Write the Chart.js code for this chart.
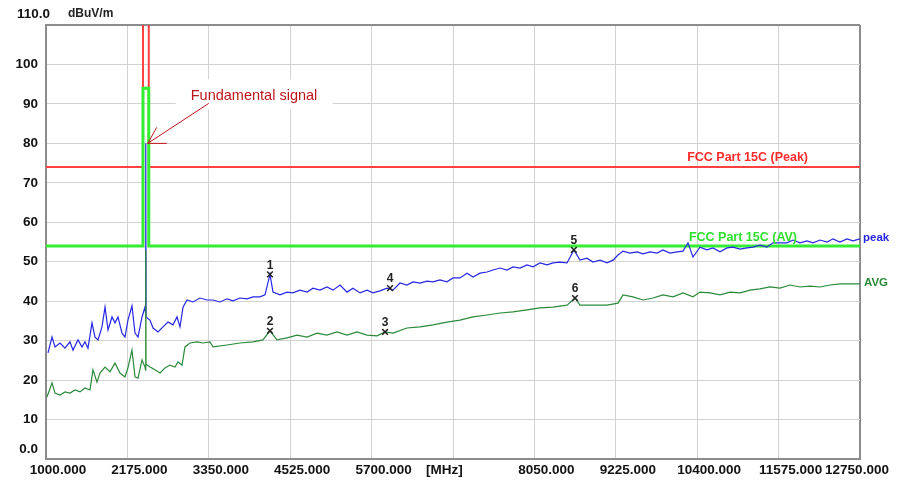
<!DOCTYPE html>
<html>
<head>
<meta charset="utf-8">
<script src="https://cdn.jsdelivr.net/npm/chart.js@4.4.1/dist/chart.umd.min.js"></script>
<style>
html,body{margin:0;padding:0;background:#fff;}
#wrap{width:897px;height:482px;position:relative;}
</style>
</head>
<body>
<div id="wrap"><canvas id="emiChart" width="897" height="482"></canvas></div>
<script>
// frequency axis (MHz) and level axis (dBuV/m)
const xTicks = [1000,2175,3350,4525,5700,6875,8050,9225,10400,11575,12750];
const xTickLabels = ["1000.000","2175.000","3350.000","4525.000","5700.000","[MHz]           ","8050.000","9225.000","10400.000","11575.000","12750.000        "];
const yTicks = [0,10,20,30,40,50,60,70,80,90,100,110];
const yTickLabels = ["0.0","10","20","30","40","50","60","70","80","90","100","110.0"];

// limit lines, restricted band notch around the fundamental
const limitFreq = [1000,2400,2400,2483.5,2483.5,12750];
const peakLimit = [74,74,114,114,74,74];
const avLimit = [54,54,94,94,54,54];

// peak detector trace
const peakFreq = [1029,1087,1130,1202,1274,1346,1390,1462,1520,1563,1606,1664,1707,1751,1808,1852,1895,1953,1996,2039,2097,2140,2183,2241,2285,2328,2386,2429,2438,2440,2444,2501,2545,2617,2689,2761,2833,2891,2934,2978,3035,3122,3223,3324,3411,3512,3613,3699,3800,3901,3988,4089,4161,4233,4277,4378,4479,4565,4666,4768,4854,4955,5056,5143,5244,5345,5431,5533,5634,5720,5821,5922,6009,6110,6211,6298,6399,6500,6586,6687,6788,6875,6976,7077,7164,7265,7366,7452,7553,7654,7741,7842,7943,8030,8131,8232,8318,8420,8521,8620,8708,8809,8896,8997,9098,9185,9257,9329,9430,9531,9618,9719,9820,9906,10007,10108,10195,10267,10339,10440,10541,10628,10729,10830,10917,11018,11119,11205,11306,11407,11494,11595,11696,11783,11884,11985,12072,12173,12274,12360,12461,12562,12649,12750];
const peakLevel = [26.9,30.9,28.4,29.4,28.1,29.7,27.6,30.2,28.4,29.7,28.1,34.5,30.9,30.2,33.5,38.5,32.7,36.0,34.5,36.0,31.9,30.9,35.2,38.8,31.9,30.9,36.0,38.5,37.0,80.0,36.0,35.2,33.2,32.2,33.5,34.7,34.0,36.0,33.5,38.5,40.3,39.8,40.8,40.3,40.3,39.8,40.6,40.1,40.8,40.6,41.1,41.1,41.6,46.8,42.3,41.6,42.3,42.1,42.8,42.3,43.3,42.8,43.6,42.8,44.1,42.3,43.3,42.1,42.8,42.1,42.6,43.3,42.8,44.6,44.1,44.9,44.6,45.1,44.9,45.4,44.9,45.9,45.9,47.1,46.1,47.1,47.4,47.9,48.4,47.9,48.7,48.4,49.2,48.7,49.7,49.2,49.7,49.9,49.7,53.0,50.4,50.9,49.9,50.4,49.7,50.4,51.7,52.7,52.2,52.5,52.0,52.5,52.2,53.0,52.2,52.5,52.7,54.8,51.2,53.7,53.0,53.5,52.5,53.5,53.7,53.2,53.5,53.7,54.2,53.7,54.8,54.8,54.8,55.5,54.8,55.3,54.8,55.5,55.0,55.8,55.0,55.8,55.3,55.8];

// average detector trace
const avgFreq = [1014,1087,1130,1202,1274,1346,1419,1491,1563,1635,1678,1736,1779,1852,1924,1996,2068,2140,2183,2241,2285,2328,2386,2429,2438,2440,2444,2501,2573,2646,2718,2790,2862,2905,2963,3006,3079,3180,3266,3367,3411,3613,3800,3988,4132,4233,4334,4479,4623,4768,4912,5056,5200,5345,5489,5634,5778,5894,6009,6211,6399,6586,6788,6976,7164,7366,7553,7741,7943,8131,8318,8521,8636,8708,8896,9098,9257,9329,9473,9618,9762,9906,10051,10195,10339,10440,10585,10729,10873,11018,11162,11306,11451,11595,11739,11884,12028,12173,12317,12461,12606,12750];
const avgLevel = [15.7,19.3,16.7,16.2,17.0,16.7,17.5,17.0,18.0,17.5,22.6,19.5,21.8,23.3,22.1,24.3,21.8,20.8,23.1,27.6,20.8,20.5,25.1,23.3,22.5,53.0,24.0,23.3,22.6,21.8,23.1,23.8,23.3,24.6,23.8,28.4,29.4,29.7,29.4,29.7,28.4,28.9,29.4,29.7,30.2,32.5,30.2,30.7,31.4,30.9,31.9,31.4,32.2,31.4,32.2,31.4,31.2,32.2,31.9,33.2,33.5,34.0,34.7,35.2,36.0,36.5,37.0,37.3,37.8,38.3,38.5,39.0,40.8,39.0,39.0,39.0,39.5,41.6,41.1,40.3,40.8,41.6,41.1,42.1,41.1,42.3,42.1,41.6,42.3,42.1,42.8,43.1,43.6,43.3,44.1,43.6,43.8,43.6,44.1,44.4,44.4,44.4];

// marked points
const markerFreq = [4233,4233,5894,5966,8620,8636];
const markerLevel = [46.8,32.5,32.2,43.3,53.0,40.8];
const markerNames = ["1","2","3","4","5","6"];

function pairs(xs, ys){ return xs.map((x,i)=>({x:x, y:ys[i]})); }

const FONT = "'Liberation Sans', Arial, sans-serif";

const textPlugin = {
  id:"textPlugin",
  afterDatasetsDraw(chart){
    const ctx = chart.ctx, a = chart.chartArea;
    const xs = chart.scales.x, ys = chart.scales.y;
    ctx.save();

    // end labels of the level axis sit a little off their ticks
    ctx.fillStyle = "#111";
    ctx.font = "bold 13.5px " + FONT;
    ctx.textAlign = "right"; ctx.textBaseline = "middle";
    ctx.fillText(yTickLabels[yTickLabels.length-1], a.left + 4, 14);
    ctx.fillText(yTickLabels[0], a.left - 8, ys.getPixelForValue(0) - 10);

    // unit label
    ctx.fillStyle = "#222";
    ctx.font = "bold 12px " + FONT;
    ctx.textAlign = "left";
    ctx.fillText("dBuV/m", a.left + 22, 14);

    // limit labels
    ctx.font = "bold 12.5px " + FONT;
    ctx.textAlign = "right"; ctx.textBaseline = "bottom";
    ctx.fillStyle = "#ff2a2a";
    ctx.fillText("FCC Part 15C (Peak)", a.right - 52, ys.getPixelForValue(74) - 3);
    ctx.fillStyle = "#2ee02e";
    ctx.fillText("FCC Part 15C (AV)", a.right - 63, ys.getPixelForValue(54) - 2);

    // trace names
    ctx.font = "bold 11.5px " + FONT;
    ctx.textAlign = "left"; ctx.textBaseline = "middle";
    ctx.fillStyle = "#2727e6";
    ctx.fillText("peak", a.right + 3, ys.getPixelForValue(peakLevel[peakLevel.length-1]) - 1);
    ctx.fillStyle = "#2a8a3a";
    ctx.fillText("AVG", a.right + 4, ys.getPixelForValue(avgLevel[avgLevel.length-1]) - 1);

    // marker numbers
    ctx.fillStyle = "#222";
    ctx.font = "bold 12px " + FONT;
    ctx.textAlign = "center"; ctx.textBaseline = "bottom";
    markerNames.forEach((n,i)=>{
      ctx.fillText(n, xs.getPixelForValue(markerFreq[i]), ys.getPixelForValue(markerLevel[i]) - 3);
    });

    // fundamental annotation
    const tipX = xs.getPixelForValue(2440) + 2, tipY = ys.getPixelForValue(80);
    ctx.fillStyle = "#fff";
    ctx.fillRect(tipX + 28, tipY - 64, 157, 30);
    ctx.fillStyle = "#c0141c";
    ctx.font = "14.5px " + FONT;
    ctx.textAlign = "left"; ctx.textBaseline = "middle";
    ctx.fillText("Fundamental signal", tipX + 43, tipY - 47);
    ctx.strokeStyle = "#c0141c"; ctx.lineWidth = 1;
    ctx.beginPath();
    ctx.moveTo(tipX + 61, tipY - 40); ctx.lineTo(tipX, tipY);
    ctx.moveTo(tipX, tipY); ctx.lineTo(tipX + 19, tipY);
    ctx.moveTo(tipX, tipY); ctx.lineTo(tipX + 9, tipY - 16);
    ctx.stroke();
    ctx.restore();
  }
};

const axisGray = "#8c8c8c", gridGray = "#d2d2d2";

new Chart(document.getElementById("emiChart"),{
  type:"line",
  data:{
    datasets:[
      {type:"scatter", label:"markers", data:pairs(markerFreq, markerLevel), pointStyle:"crossRot", pointRadius:4, borderColor:"#222", borderWidth:1.5, showLine:false},
      {label:"AVG", data:pairs(avgFreq, avgLevel), borderColor:"#2a8a3a", borderWidth:1.2, pointRadius:0, tension:0},
      {label:"peak", data:pairs(peakFreq, peakLevel), borderColor:"#2727e6", borderWidth:1.2, pointRadius:0, tension:0},
      {label:"FCC Part 15C (AV)", data:pairs(limitFreq, avLimit), borderColor:"#33ee33", borderWidth:3, pointRadius:0, tension:0},
      {label:"FCC Part 15C (Peak)", data:pairs(limitFreq, peakLimit), borderColor:"#ff4040", borderWidth:2, pointRadius:0, tension:0}
    ]
  },
  options:{
    responsive:false,
    animation:false,
    layout:{padding:{top:25,right:37,left:0,bottom:0}},
    plugins:{legend:{display:false}, tooltip:{enabled:false}},
    scales:{
      x:{
        type:"linear", min:1000, max:12750,
        afterBuildTicks(s){ s.ticks = xTicks.map(v=>({value:v})); },
        afterFit(s){ s.height = 23; s.paddingLeft = 0; s.paddingRight = 0; },
        ticks:{autoSkip:false, maxRotation:0, padding:3, labelOffset:12, color:"#111",
          font:{family:FONT, size:13.5, weight:"bold"},
          callback:(v,i)=>xTickLabels[i]},
        grid:{drawTicks:false,
          color:c=>c.tick && c.tick.value===12750 ? axisGray : gridGray,
          lineWidth:c=>c.tick && c.tick.value===12750 ? 2 : 1},
        border:{color:axisGray, width:2}
      },
      y:{
        min:0, max:110,
        afterBuildTicks(s){ s.ticks = yTicks.map(v=>({value:v})); },
        afterFit(s){ s.width = 46; },
        ticks:{padding:8, color:"#111", font:{family:FONT, size:13.5, weight:"bold"},
          callback:(v,i)=>(i===0 || i===yTickLabels.length-1) ? "" : yTickLabels[i]},
        grid:{drawTicks:false,
          color:c=>c.tick && c.tick.value===110 ? axisGray : gridGray,
          lineWidth:c=>c.tick && c.tick.value===110 ? 2 : 1},
        border:{color:axisGray, width:2}
      }
    }
  },
  plugins:[textPlugin]
});
</script>
</body>
</html>
